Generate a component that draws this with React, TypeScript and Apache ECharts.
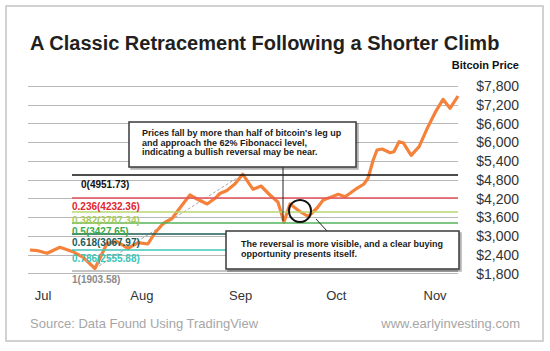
import React, { useEffect, useRef } from "react";
import * as echarts from "echarts";

// Days counted from 1 July (day 0)
const days = [-4.1, -1.6, 1.3, 5.3, 9.4, 12.6, 16.3, 20.1, 23.2, 26.7, 29.8, 32.9, 35.1, 37.7, 40.5, 43.3, 46.1, 48.3, 51.5, 54.0, 55.5, 57.7, 60.2, 62.7, 65.9, 68.4, 71.2, 73.7, 75.6, 77.5, 80.6, 83.2, 86.0, 87.9, 90.7, 92.6, 94.8, 98.5, 100.7, 102.0, 103.6, 104.8, 106.4, 108.9, 110.1, 111.7, 113.0, 115.5, 118.0, 120.8, 123.0, 125.5, 127.7, 130.2];
const prices = [2552, 2530, 2446, 2638, 2498, 2318, 1960, 2766, 2818, 2606, 2786, 2744, 3096, 3400, 3560, 3944, 4312, 4184, 4024, 4206, 4360, 4456, 4664, 4975, 4494, 4600, 4312, 4088, 3448, 4024, 3784, 3624, 3896, 4152, 4258, 4334, 4258, 4526, 4664, 4856, 5432, 5752, 5784, 5666, 5698, 6018, 5986, 5582, 5858, 6498, 6946, 7374, 7086, 7480];

const monthLabels = ["Jul", "Aug", "Sep", "Oct", "Nov"];
const monthStartDays = [0, 31, 62, 92, 123];

const fibRatios = [0, 0.236, 0.382, 0.5, 0.618, 0.786, 1];
const fibLevels = [4951.73, 4232.36, 3787.34, 3427.65, 3067.97, 2555.88, 1903.58];
const fibColors = ["#111111", "#e3262d", "#a9ca5c", "#3caa48", "#1c5d5a", "#3cc4b6", "#8a8a8a"];
const fibLineColors = ["#111111", "#e4555a", "#b8d670", "#52b35a", "#1c5d5a", "#40c6b8", "#b0b0b0"];
const fibStartDay = 9.1;

const xMin = -4.7;
const xMax = 130.2;
const yMin = 1800;
const yMax = 7800;
const yStep = 600;

const FONT = "'Liberation Sans', Arial, sans-serif";

export default function App() {
  const ref = useRef<HTMLDivElement>(null);
  useEffect(() => {
    if (!ref.current) return;
    const chart = echarts.init(ref.current, undefined, { renderer: "svg" });
    const series = days.map((d, i) => [d, prices[i]]);
    // anchor points of the Fibonacci leg: lowest point then highest point before the pullback
    let lowIdx = 0;
    for (let i = 0; i < 15; i++) if (prices[i] < prices[lowIdx]) lowIdx = i;
    let peakIdx = lowIdx;
    for (let i = lowIdx; i < 30; i++) if (prices[i] > prices[peakIdx]) peakIdx = i;

    const fibMarks = fibLevels.map((lv, i) => [
      {
        coord: [fibStartDay, lv],
        lineStyle: { color: fibLineColors[i], width: 1.5, type: "solid" },
        label: {
          show: true,
          position: "insideStartBottom",
          distance: [i === 0 ? 9 : 0, 4],
          formatter: `${fibRatios[i]}(${lv.toFixed(2)})`,
          color: fibColors[i],
          fontFamily: FONT,
          fontSize: 10,
          fontWeight: "bold",
        },
      },
      { coord: [xMax, lv] },
    ]);

    const box = (x: number, y: number, w: number, h: number) => ({
      type: "rect",
      z: 100,
      shape: { x, y, width: w, height: h },
      style: {
        fill: "#ffffff",
        stroke: "#3a3a3a",
        lineWidth: 1.5,
        shadowColor: "rgba(0,0,0,0.3)",
        shadowOffsetX: 2,
        shadowOffsetY: 2,
        shadowBlur: 1,
      },
    });

    chart.setOption({
      animation: false,
      grid: { left: 28, right: 92, top: 86, bottom: 77.5 },
      xAxis: {
        type: "value",
        min: xMin,
        max: xMax,
        splitLine: { show: false },
        axisLine: { show: false },
        axisTick: { show: false },
        axisLabel: {
          customValues: monthStartDays,
          formatter: (v: number) => monthLabels[monthStartDays.indexOf(v)] ?? "",
          color: "#333",
          fontFamily: FONT,
          fontSize: 13,
          margin: 15,
        },
      },
      yAxis: {
        type: "value",
        position: "right",
        min: yMin,
        max: yMax,
        interval: yStep,
        axisLine: { show: false },
        axisTick: { show: false },
        splitLine: { lineStyle: { color: "#b8b8b8", width: 1 } },
        axisLabel: {
          formatter: (v: number) => "$" + v.toLocaleString("en-US"),
          align: "right",
          margin: 61,
          color: "#333",
          fontFamily: FONT,
          fontSize: 14,
        },
      },
      series: [
        {
          type: "line",
          z: 2,
          silent: true,
          symbol: "none",
          data: [series[lowIdx], series[peakIdx]],
          lineStyle: { color: "#a8a8a8", width: 1, type: [3, 2] },
          markLine: {
            silent: true,
            symbol: ["none", "none"],
            data: fibMarks,
          },
        },
        {
          type: "line",
          z: 3,
          symbol: "none",
          data: series,
          lineStyle: { color: "#f5823a", width: 3.2, join: "round" },
        },
      ],
      graphic: [
        {
          type: "rect",
          z: 0,
          shape: { x: 6, y: 6, width: 537, height: 335 },
          style: { fill: "none", stroke: "#c4c4c4", lineWidth: 1.5 },
        },
        {
          type: "text",
          style: {
            text: "A Classic Retracement Following a Shorter Climb",
            x: 30,
            y: 43,
            verticalAlign: "middle",
            fill: "#231f20",
            font: `bold 20px ${FONT}`,
          },
        },
        {
          type: "text",
          style: {
            text: "Bitcoin Price",
            x: 519,
            y: 65,
            align: "right",
            verticalAlign: "middle",
            fill: "#111",
            font: `bold 11px ${FONT}`,
          },
        },
        {
          type: "text",
          style: {
            text: "Source: Data Found Using TradingView",
            x: 30,
            y: 323,
            verticalAlign: "middle",
            fill: "#a6a6a6",
            font: `13px ${FONT}`,
          },
        },
        {
          type: "text",
          style: {
            text: "www.earlyinvesting.com",
            x: 520,
            y: 323,
            align: "right",
            verticalAlign: "middle",
            fill: "#a6a6a6",
            font: `13px ${FONT}`,
          },
        },
        {
          type: "line",
          z: 99,
          shape: { x1: 283, y1: 167, x2: 283, y2: 221 },
          style: { stroke: "#222", lineWidth: 1 },
        },
        box(129, 122, 227, 45),
        {
          type: "text",
          z: 101,
          style: {
            text: "Prices fall by more than half of bitcoin's leg up\nand approach the 62% Fibonacci level,\nindicating a bullish reversal may be near.",
            x: 142,
            y: 128.5,
            verticalAlign: "top",
            lineHeight: 9.5,
            fill: "#1a1a1a",
            font: `bold 9px ${FONT}`,
          },
        },
        {
          type: "circle",
          z: 99,
          shape: { cx: 300, cy: 211, r: 11 },
          style: { fill: "none", stroke: "#111", lineWidth: 2 },
        },
        {
          type: "line",
          z: 99,
          shape: { x1: 316, y1: 219, x2: 327, y2: 231 },
          style: { stroke: "#222", lineWidth: 1 },
        },
        box(226, 231, 233, 38),
        {
          type: "text",
          z: 101,
          style: {
            text: "The reversal is more visible, and a clear buying\nopportunity presents itself.",
            x: 241,
            y: 239.3,
            verticalAlign: "top",
            lineHeight: 9.5,
            fill: "#1a1a1a",
            font: `bold 9px ${FONT}`,
          },
        },
      ],
    });
    return () => chart.dispose();
  }, []);
  return (
    <div
      ref={ref}
      style={{ position: "fixed", left: 0, top: 0, width: 550, height: 351, background: "#fff" }}
    />
  );
}
